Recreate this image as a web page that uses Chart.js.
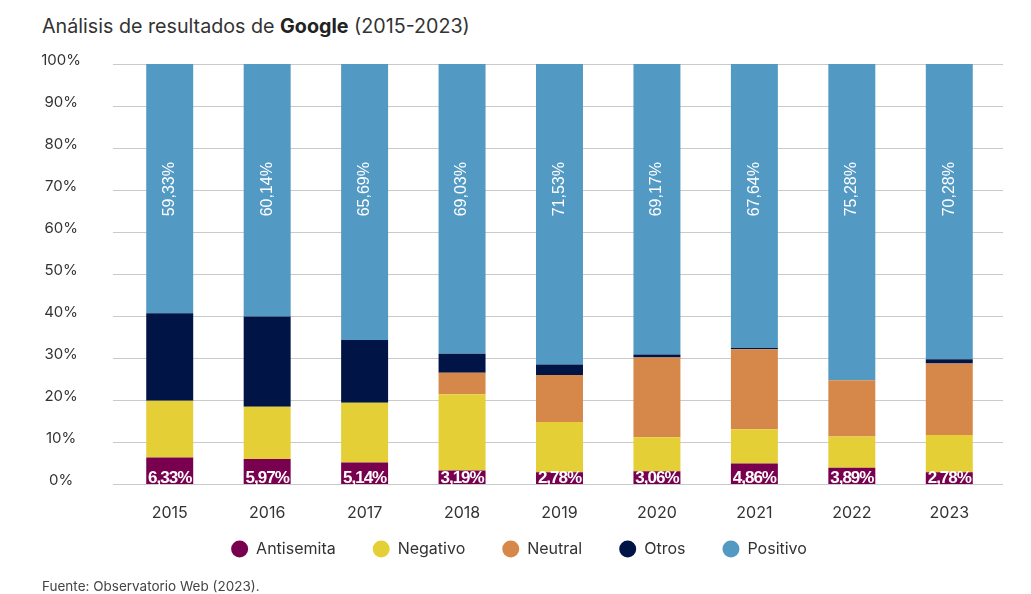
<!DOCTYPE html>
<html lang="es">
<head>
<meta charset="utf-8">
<script src="https://cdn.jsdelivr.net/npm/chart.js@4.4.1/dist/chart.umd.min.js"></script>
<style>
    body { margin: 0; background: #fff; }
    #wrap { position: relative; width: 1031px; height: 594px; overflow: hidden; }
    #title { position: absolute; left: 42px; top: 14px; font: 19.7px Inter, sans-serif; color: #333; }
    #title b { font-weight: 700; color: #222; }
    #source { position: absolute; left: 42px; top: 578px; font: 13.5px Inter, sans-serif; color: #444; }
    canvas { position: absolute; left: 0; top: 0; }
</style>
</head>
<body>
<div id="wrap">
    <div id="title">Análisis de resultados de <b>Google</b> (2015-2023)</div>
    <canvas id="chart" width="1031" height="594"></canvas>
    <div id="source">Fuente: Observatorio Web (2023).</div>
</div>
<script>
// datos (en %)
const years = ['2015', '2016', '2017', '2018', '2019', '2020', '2021', '2022', '2023'];
const antisemita = [6.33, 5.97, 5.14, 3.19, 2.78, 3.06, 4.86, 3.89, 2.78];
const negativo = [13.5, 12.4, 14.2, 18.2, 12.0, 8.1, 8.2, 7.4, 8.9];
const neutral = [0, 0, 0, 5.1, 11.2, 18.97, 19.0, 13.43, 17.04];
const otros = [20.84, 21.49, 14.97, 4.5, 2.5, 0.7, 0.3, 0, 1.0];
const positivo = [59.33, 60.14, 65.69, 69.03, 71.53, 69.17, 67.64, 75.28, 70.28];
const yTicks = [0, 10, 20, 30, 40, 50, 60, 70, 80, 90, 100];

const fmt = v => v.toFixed(2).replace('.', ',') + '%';

// etiquetas dentro de las barras (Antisemita abajo, Positivo en vertical)
const barLabels = {
    id: 'barLabels',
    afterDatasetsDraw(chart) {
        const ctx = chart.ctx;
        const y = chart.scales.y;
        ctx.save();
        ctx.fillStyle = '#fff';

        // Antisemita
        ctx.font = 'bold 17px "Liberation Sans", Arial, sans-serif';
        ctx.letterSpacing = '-1px';
        ctx.textAlign = 'center';
        ctx.textBaseline = 'alphabetic';
        chart.getDatasetMeta(0).data.forEach((bar, i) => {
            ctx.fillText(fmt(antisemita[i]), bar.x, y.getPixelForValue(0) - 1);
        });

        // Positivo
        ctx.letterSpacing = '0px';
        ctx.font = '16px "Liberation Sans", Arial, sans-serif';
        ctx.textBaseline = 'middle';
        chart.getDatasetMeta(4).data.forEach((bar, i) => {
            ctx.save();
            ctx.translate(bar.x, y.getPixelForValue(70.2));
            ctx.rotate(-Math.PI / 2);
            ctx.fillText(fmt(positivo[i]), 0, 0);
            ctx.restore();
        });
        ctx.restore();
    }
};

// líneas horizontales un poco más largas que el área del gráfico
const gridLines = {
    id: 'gridLines',
    beforeDatasetsDraw(chart) {
        const { ctx, chartArea, scales: { y } } = chart;
        ctx.save();
        ctx.strokeStyle = '#cacaca';
        ctx.lineWidth = 1;
        yTicks.forEach(t => {
            const py = Math.round(y.getPixelForValue(t)) + 0.5;
            ctx.beginPath();
            ctx.moveTo(chartArea.left - 8, py);
            ctx.lineTo(chartArea.right + 5, py);
            ctx.stroke();
        });
        ctx.restore();
    }
};

const mk = (label, data, color) => ({
    label: label,
    data: data,
    backgroundColor: color,
    borderWidth: 0,
    barPercentage: 0.482,
    categoryPercentage: 1
});

new Chart(document.getElementById('chart').getContext('2d'), {
    type: 'bar',
    data: {
        labels: years,
        datasets: [
            mk('Antisemita', antisemita, '#78004e'),
            mk('Negativo', negativo, '#e4cf36'),
            mk('Neutral', neutral, '#d6884a'),
            mk('Otros', otros, '#001446'),
            mk('Positivo', positivo, '#5299c4')
        ]
    },
    options: {
        responsive: false,
        animation: false,
        layout: { padding: { top: 64, right: 33, bottom: 27, left: 40 } },
        plugins: {
            legend: {
                position: 'bottom',
                labels: {
                    usePointStyle: true,
                    pointStyle: 'circle',
                    pointStyleWidth: 17,
                    boxHeight: 12,
                    padding: 17,
                    color: '#333',
                    font: { family: 'Inter, sans-serif', size: 16 },
                    // espacio extra entre elementos de la leyenda (salvo el último)
                    generateLabels(chart) {
                        const items = Chart.defaults.plugins.legend.labels.generateLabels(chart);
                        items.forEach((it, i) => {
                            if (i < items.length - 1) it.text = it.text + '\u2003\u2005';
                        });
                        return items;
                    }
                }
            },
            tooltip: { enabled: false }
        },
        scales: {
            x: {
                stacked: true,
                grid: { display: false },
                border: { display: false },
                afterFit(scale) { scale.height = 40; },
                ticks: { padding: 12, color: '#333', font: { family: 'Inter, sans-serif', size: 16 } }
            },
            y: {
                stacked: true,
                min: 0,
                max: 100,
                grid: { display: false, drawTicks: false },
                border: { display: false },
                afterFit(scale) { scale.width = 81; },
                ticks: {
                    stepSize: 10,
                    crossAlign: 'center',
                    padding: 40,
                    labelOffset: -4,
                    color: '#333',
                    font: { family: 'Inter, sans-serif', size: 15 },
                    callback: v => v + '%'
                }
            }
        }
    },
    plugins: [gridLines, barLabels]
});
</script>
</body>
</html>
